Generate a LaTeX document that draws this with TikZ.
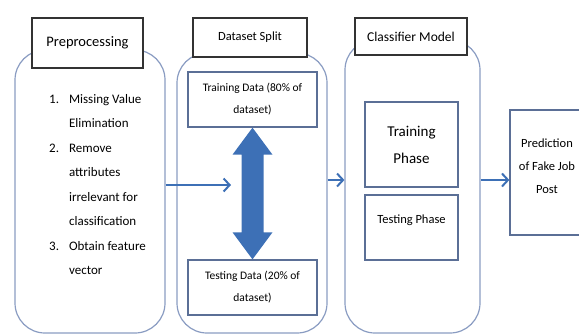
\documentclass[tikz,border=0pt]{standalone}
\usepackage{fontspec}
\setmainfont{Carlito}
\usetikzlibrary{arrows.meta,calc}
\definecolor{colline}{HTML}{8A9CC2}
\definecolor{boxline}{HTML}{5B6F96}
\definecolor{arrblue}{HTML}{3D70B6}
\definecolor{dark}{HTML}{333333}
\tikzset{
  column/.style={draw=colline,line width=1.2pt,rounded corners=30pt},
  labelbox/.style={draw=dark,line width=2.5pt,fill=white,inner sep=0pt},
  innerbox/.style={draw=boxline,line width=1.3pt,fill=white,inner sep=0pt},
  flow/.style={draw=arrblue,line width=2pt,-{Straight Barb[length=6pt,width=13pt,line width=2pt]}},
}
\begin{document}
\begin{tikzpicture}[x=1pt,y=-1pt]
\useasboundingbox (0,0) rectangle (579,335);
% columns
\node[column,minimum width=150pt,minimum height=283pt] (prep) at (90,191.5) {};
\node[column,minimum width=150pt,minimum height=280pt] (ds) at (252,193) {};
\node[column,minimum width=135pt,minimum height=293pt] (cls) at (412.5,186.5) {};
% label boxes
\node[labelbox,minimum width=111pt,minimum height=50pt,font=\fontsize{14.5}{16}\selectfont] (lprep) at (87.5,43) {Preprocessing};
\node[labelbox,minimum width=114pt,minimum height=39pt,font=\fontsize{12.5}{14}\selectfont] (lds) at (250,37.5) {Dataset Split};
\node[labelbox,minimum width=112pt,minimum height=37pt,font=\fontsize{13.5}{15}\selectfont] (lcls) at (411,36.5) {Classifier Model};
% preprocessing list
\node[anchor=north west,inner sep=0pt,font=\fontsize{13}{24.5}\selectfont] (list) at (49,86) {%
\begin{tabular}{@{}l@{\hspace{10pt}}l@{}}
1. & Missing Value\\
   & Elimination\\
2. & Remove\\
   & attributes\\
   & irrelevant for\\
   & classification\\
3. & Obtain feature\\
   & vector
\end{tabular}};
% dataset split inner boxes
\node[innerbox,minimum width=129pt,minimum height=55pt,align=center,font=\fontsize{11.5}{22}\selectfont] (train) at (252.5,99.5) {Training Data (80\% of\\dataset)};
\node[innerbox,minimum width=129pt,minimum height=55pt,align=center,font=\fontsize{11.5}{22}\selectfont] (test) at (252.5,287.5) {Testing Data (20\% of\\dataset)};
% classifier inner boxes
\node[innerbox,minimum width=93pt,minimum height=85pt,align=center,font=\fontsize{15}{27}\selectfont] (trp) at (411.5,144.5) {Training\\Phase};
\node[innerbox,minimum width=93pt,minimum height=65pt,font=\fontsize{12.5}{14}\selectfont,text depth=0pt] (tsp) at (411.5,227.5) {\raisebox{17pt}{Testing Phase}};
% prediction
\node[innerbox,minimum width=80pt,minimum height=125pt] (pred) at (550,172.5) {};
\node[align=center,font=\fontsize{12.5}{23}\selectfont,inner sep=0pt] (predtxt) at (547,166) {Prediction\\of Fake Job\\Post};
% double arrow
\fill[arrblue] (train.south) -- ++(20,27) -- ++(-9,0) -- ($(test.north)+(11,-27)$) -- ++(9,0) -- (test.north) -- ++(-20,-27) -- ++(9,0) -- ($(train.south)+(-11,27)$) -- ++(-9,0) -- cycle;
\coordinate (shaft) at (231,185);
% flow arrows
\draw[flow] (prep.east |- shaft) -- (shaft);
\draw[flow,line width=2.5pt] (ds.east |- 0,180) -- (cls.west |- 0,180);
\draw[flow,line width=2.5pt] (cls.east |- 0,180) -- (pred.west |- 0,180);
\end{tikzpicture}
\end{document}
